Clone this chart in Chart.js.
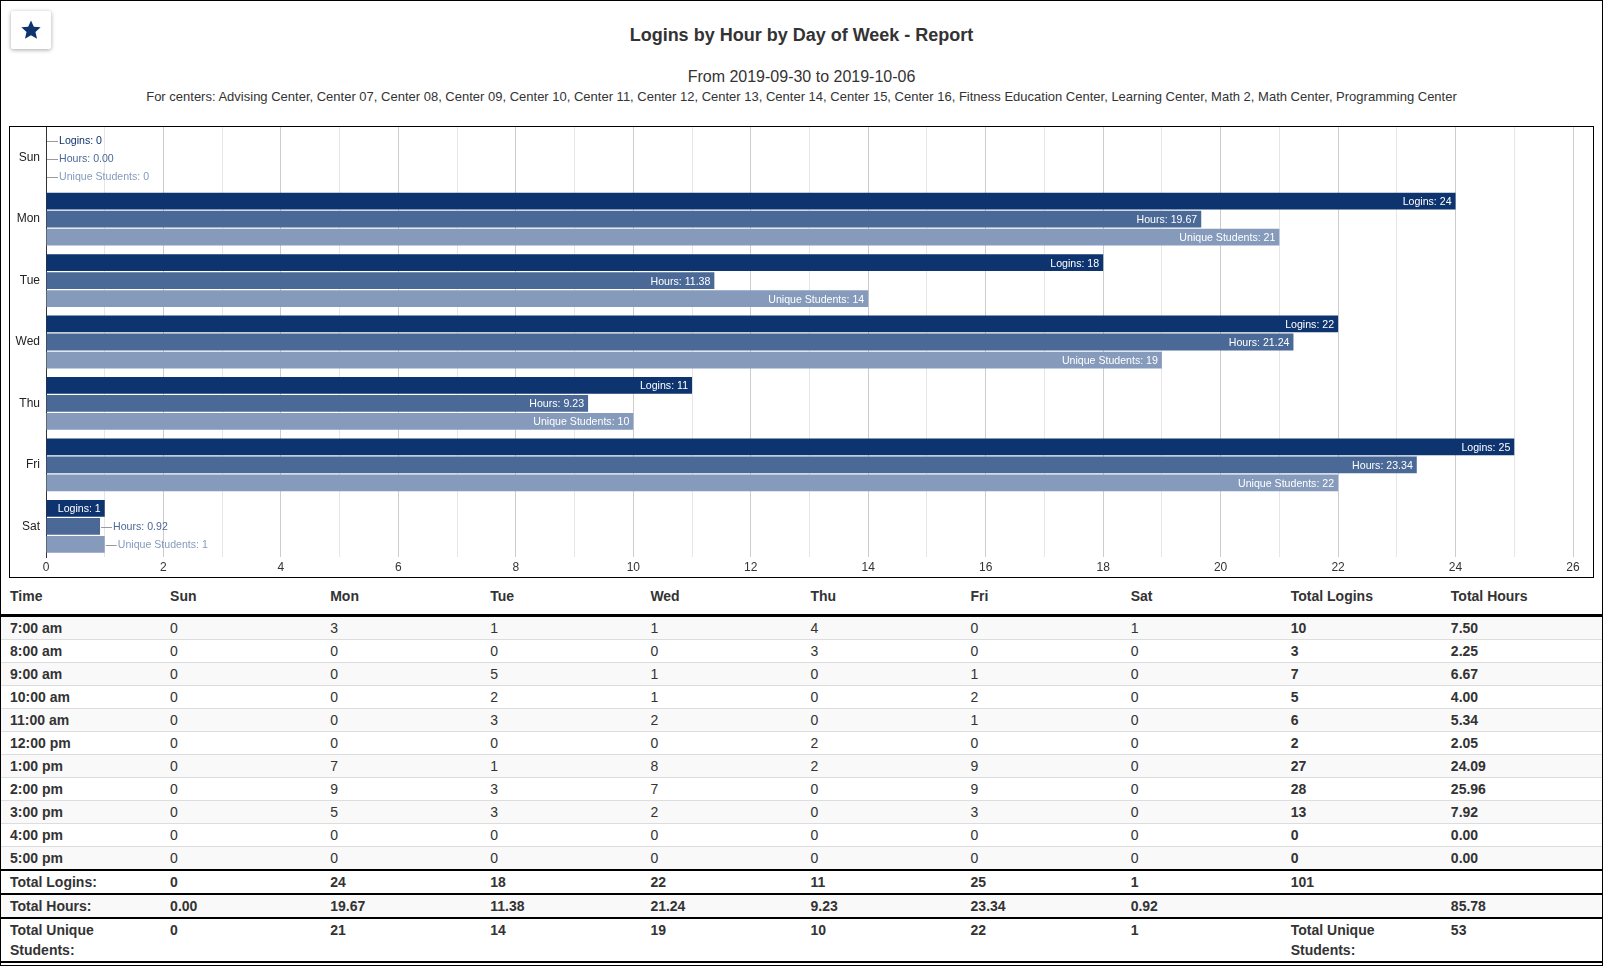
<!DOCTYPE html>
<html>
<head>
<meta charset="utf-8">
<title>Logins by Hour by Day of Week - Report</title>
<script src="https://cdn.jsdelivr.net/npm/chart.js@4.4.1/dist/chart.umd.min.js"></script>
<style>
    html, body { margin: 0; padding: 0; background: #fff; }
    body { font-family: 'Liberation Sans', Arial, Helvetica, sans-serif; color: #333; }
    #page {
        position: relative; width: 1603px; height: 966px;
        box-sizing: border-box; border: 1px solid #000; overflow: hidden;
    }
    .star-btn {
        position: absolute; left: 10px; top: 10px; width: 40px; height: 38px;
        background: #fff; border-radius: 2px;
        box-shadow: 0 1px 4px rgba(0,0,0,0.35);
    }
    .star-btn svg { position: absolute; left: 9px; top: 8px; }
    .title { position: absolute; left: 0; right: 0; top: 24px; text-align: center;
        font-size: 18px; font-weight: bold; line-height: 20px; }
    .range { position: absolute; left: 0; right: 0; top: 66px; text-align: center;
        font-size: 16px; line-height: 20px; }
    .centers { position: absolute; left: 0; right: 0; top: 88px; text-align: center;
        font-size: 13px; line-height: 16px; }
    .chart-box {
        position: absolute; left: 8px; top: 125px; width: 1585px; height: 452px;
        box-sizing: border-box; border: 1px solid #000;
    }
    table {
        position: absolute; left: 0; top: 577px; width: 1601px;
        border-collapse: collapse; table-layout: fixed;
        font-size: 14px; line-height: 20px; color: #333;
    }
    th { text-align: left; font-weight: bold; padding: 8px 9px; border-bottom: 3px solid #000; }
    td { padding: 1px 9px; border-top: 1px solid #ddd; vertical-align: top; }
    tbody tr:nth-child(odd) td { background: #f9f9f9; }
    td.b { font-weight: bold; }
    tfoot td { font-weight: bold; border-top: 2px solid #000; }
    tfoot tr:nth-child(2) td { background: #f9f9f9; }
    tfoot tr:last-child td { border-bottom: 2px solid #000; }
</style>
</head>
<body>
<div id="page">
    <div class="star-btn">
        <svg width="22" height="22" viewBox="0 0 24 24">
            <path fill="#0e3470" d="M12 1.5l3.1 6.9 7.4.7-5.6 5 1.7 7.4L12 17.6l-6.6 3.9 1.7-7.4-5.6-5 7.4-.7z"/>
        </svg>
    </div>
    <div class="title">Logins by Hour by Day of Week - Report</div>
    <div class="range">From 2019-09-30 to 2019-10-06</div>
    <div class="centers">For centers: Advising Center, Center 07, Center 08, Center 09, Center 10, Center 11, Center 12, Center 13, Center 14, Center 15, Center 16, Fitness Education Center, Learning Center, Math 2, Math Center, Programming Center</div>
    <div class="chart-box"><canvas id="loginChart"></canvas></div>
    <table id="loginTable">
        <thead></thead>
        <tbody></tbody>
        <tfoot></tfoot>
    </table>
</div>

<script>
// chart data
const days = ['Sun', 'Mon', 'Tue', 'Wed', 'Thu', 'Fri', 'Sat'];
const logins = [0, 24, 18, 22, 11, 25, 1];
const hours = [0, 19.67, 11.38, 21.24, 9.23, 23.34, 0.92];
const uniqueStudents = [0, 21, 14, 19, 10, 22, 1];

const seriesNames = ['Logins', 'Hours', 'Unique Students'];
const seriesColors = ['#0e3470', '#4a6997', '#869bbb'];

// table data
const hourLabels = ['7:00 am', '8:00 am', '9:00 am', '10:00 am', '11:00 am', '12:00 pm',
    '1:00 pm', '2:00 pm', '3:00 pm', '4:00 pm', '5:00 pm'];
const hourlyLogins = [
    [0, 3, 1, 1, 4, 0, 1],
    [0, 0, 0, 0, 3, 0, 0],
    [0, 0, 5, 1, 0, 1, 0],
    [0, 0, 2, 1, 0, 2, 0],
    [0, 0, 3, 2, 0, 1, 0],
    [0, 0, 0, 0, 2, 0, 0],
    [0, 7, 1, 8, 2, 9, 0],
    [0, 9, 3, 7, 0, 9, 0],
    [0, 5, 3, 2, 0, 3, 0],
    [0, 0, 0, 0, 0, 0, 0],
    [0, 0, 0, 0, 0, 0, 0]
];
const hourlyTotalLogins = [10, 3, 7, 5, 6, 2, 27, 28, 13, 0, 0];
const hourlyTotalHours = ['7.50', '2.25', '6.67', '4.00', '5.34', '2.05', '24.09', '25.96', '7.92', '0.00', '0.00'];
const grandLogins = 101;
const grandHours = '85.78';
const grandUnique = 53;

Chart.defaults.font.family = "'Liberation Sans', Arial, sans-serif";

// value labels: inside the bar end when they fit, else outside with a little leader line
const barLabels = {
    id: 'barLabels',
    afterDatasetsDraw(chart) {
        const ctx = chart.ctx;
        ctx.save();
        ctx.font = "10.6px 'Liberation Sans', Arial, sans-serif";
        ctx.textBaseline = 'middle';
        chart.data.datasets.forEach((ds, i) => {
            const meta = chart.getDatasetMeta(i);
            meta.data.forEach((bar, j) => {
                const v = ds.data[j];
                const txt = seriesNames[i] + ': ' + (i === 1 ? v.toFixed(2) : v);
                const w = ctx.measureText(txt).width;
                const len = bar.x - bar.base;
                const y = Math.round(bar.y) + 0.5;
                if (w + 8 <= len) {
                    ctx.fillStyle = '#fff';
                    ctx.textAlign = 'right';
                    ctx.fillText(txt, bar.x - 4, y + 1);
                } else {
                    ctx.strokeStyle = '#999';
                    ctx.lineWidth = 1;
                    ctx.beginPath();
                    ctx.moveTo(bar.x + 1, y + 1);
                    ctx.lineTo(bar.x + 12, y + 1);
                    ctx.stroke();
                    ctx.fillStyle = seriesColors[i];
                    ctx.textAlign = 'left';
                    ctx.fillText(txt, bar.x + 13, y + 1);
                }
            });
        });
        ctx.restore();
    }
};

function initChart() {
    const ctx = document.getElementById('loginChart').getContext('2d');
    const values = [logins, hours, uniqueStudents];
    new Chart(ctx, {
        type: 'bar',
        data: {
            labels: days,
            datasets: values.map((d, i) => ({
                label: seriesNames[i],
                data: d,
                backgroundColor: seriesColors[i],
                borderWidth: 0,
                categoryPercentage: 0.88,
                barPercentage: 0.93
            }))
        },
        options: {
            indexAxis: 'y',
            responsive: true,
            maintainAspectRatio: false,
            animation: false,
            layout: { padding: { right: 20 } },
            plugins: {
                legend: { display: false },
                tooltip: { enabled: false }
            },
            scales: {
                x: {
                    min: 0,
                    max: 26,
                    ticks: {
                        stepSize: 1,
                        autoSkip: false,
                        maxRotation: 0,
                        padding: 3,
                        color: '#333',
                        font: { size: 12 },
                        callback: v => (v % 2 === 0 ? v : '')
                    },
                    grid: {
                        drawTicks: false,
                        color: c => (c.tick && c.tick.value % 2 === 0 ? '#cccccc' : '#e6e6e6')
                    },
                    border: { display: false },
                    afterFit(s) { s.height = 20; s.paddingLeft = 0; s.paddingRight = 0; }
                },
                y: {
                    ticks: { padding: 6, color: '#222', font: { size: 12 } },
                    grid: { display: false, drawTicks: false },
                    border: { display: true, color: '#333', width: 1 },
                    afterFit(s) { s.width = 36; s.paddingTop = 0; s.paddingBottom = 0; }
                }
            }
        },
        plugins: [barLabels]
    });
}

function buildTable() {
    const table = document.getElementById('loginTable');
    const head = ['Time'].concat(days, ['Total Logins', 'Total Hours']);
    table.tHead.innerHTML = '<tr>' + head.map(h => '<th>' + h + '</th>').join('') + '</tr>';

    let body = '';
    hourLabels.forEach((h, r) => {
        body += '<tr><td class="b">' + h + '</td>' +
            hourlyLogins[r].map(v => '<td>' + v + '</td>').join('') +
            '<td class="b">' + hourlyTotalLogins[r] + '</td><td class="b">' + hourlyTotalHours[r] + '</td></tr>';
    });
    table.tBodies[0].innerHTML = body;

    const cells = arr => arr.map(v => '<td>' + v + '</td>').join('');
    table.tFoot.innerHTML =
        '<tr><td>Total Logins:</td>' + cells(logins) + '<td>' + grandLogins + '</td><td></td></tr>' +
        '<tr><td>Total Hours:</td>' + cells(hours.map(v => v.toFixed(2))) + '<td></td><td>' + grandHours + '</td></tr>' +
        '<tr><td>Total Unique Students:</td>' + cells(uniqueStudents) + '<td>Total Unique Students:</td><td>' + grandUnique + '</td></tr>';
}

buildTable();
initChart();
</script>
</body>
</html>
